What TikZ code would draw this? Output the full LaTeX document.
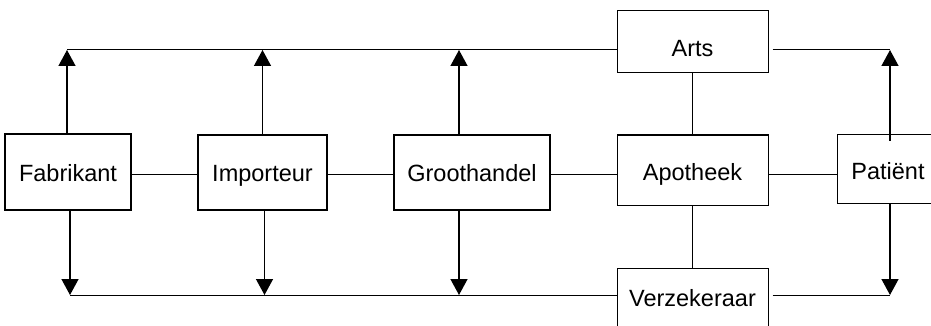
\documentclass[tikz,border=0pt]{standalone}
\usepackage{fontspec}
\setmainfont{Liberation Sans}
\usetikzlibrary{arrows.meta}
\begin{document}
\begin{tikzpicture}[x=1pt,y=-1pt,
  box/.style={draw, line width=1pt, inner sep=0pt, text height=18pt, text depth=0pt,
    font=\fontsize{23.5}{28}\selectfont},
  thickbox/.style={box, line width=2pt},
  link/.style={line width=1pt},
  arr/.style={line width=1.4pt, -{Triangle[width=17pt,length=16pt]}}]
\useasboundingbox (0,0) rectangle (931,326);
% boxes
\node[thickbox, minimum width=126pt, minimum height=76pt] (fab) at (68,172) {Fabrikant};
\node[thickbox, minimum width=129pt, minimum height=75pt] (imp) at (262.5,172.5) {Importeur};
\node[thickbox, minimum width=156pt, minimum height=75pt] (gro) at (472,172.5) {Groothandel};
\node[box, minimum width=151pt, minimum height=62pt, text height=37pt, text depth=7pt] (arts) at (692.5,42) {Arts};
\node[box, minimum width=151pt, minimum height=70pt, text height=20pt] (apo) at (692.5,170) {Apotheek};
\node[box, minimum width=102pt, minimum height=68pt, text height=20pt] (pat) at (888,169) {Patiënt\hspace{8pt}};
\node[box, minimum width=151pt, minimum height=62pt, text height=20pt, text depth=5pt] (ver) at (692.5,299) {Verzekeraar};
% helper coordinates
\coordinate (top) at (0,50);
\coordinate (bot) at (0,295);
\coordinate (mid) at (0,174);
% middle chain
\draw[link] (fab.east |- mid) -- (imp.west |- mid);
\draw[link] (imp.east |- mid) -- (gro.west |- mid);
\draw[link] (gro.east |- mid) -- (apo.west |- mid);
\draw[link] (apo.east |- mid) -- (pat.west |- mid);
\draw[link] (arts.south) -- (apo.north);
\draw[link] (apo.south) -- (ver.north);
% top bus
\coordinate (t1) at ([xshift=-1pt]fab.north |- top);
\coordinate (t4) at ([xshift=2pt]pat.north |- top);
\draw[link] (t1) -- (arts.west |- top);
\draw[link] ([xshift=4pt]arts.east |- top) -- (t4);
\draw[arr] ([xshift=-1pt]fab.north) -- (t1);
\draw[arr] (imp.north) -- (imp.north |- top);
\draw[arr] ([xshift=-13pt]gro.north) -- ([xshift=-13pt]gro.north |- top);
\draw[arr] ([xshift=2pt,yshift=-6pt]pat.north) -- (t4);
% bottom bus
\coordinate (b1) at ([xshift=2pt]fab.south |- bot);
\coordinate (b4) at ([xshift=2pt]pat.south |- bot);
\draw[link] (b1) -- (ver.west |- bot);
\draw[link] ([xshift=4pt]ver.east |- bot) -- (b4);
\draw[arr] ([xshift=2pt]fab.south) -- (b1);
\draw[arr] ([xshift=2pt]imp.south) -- ([xshift=2pt]imp.south |- bot);
\draw[arr] ([xshift=-13pt]gro.south) -- ([xshift=-13pt]gro.south |- bot);
\draw[arr] ([xshift=2pt]pat.south) -- (b4);
\end{tikzpicture}
\end{document}
